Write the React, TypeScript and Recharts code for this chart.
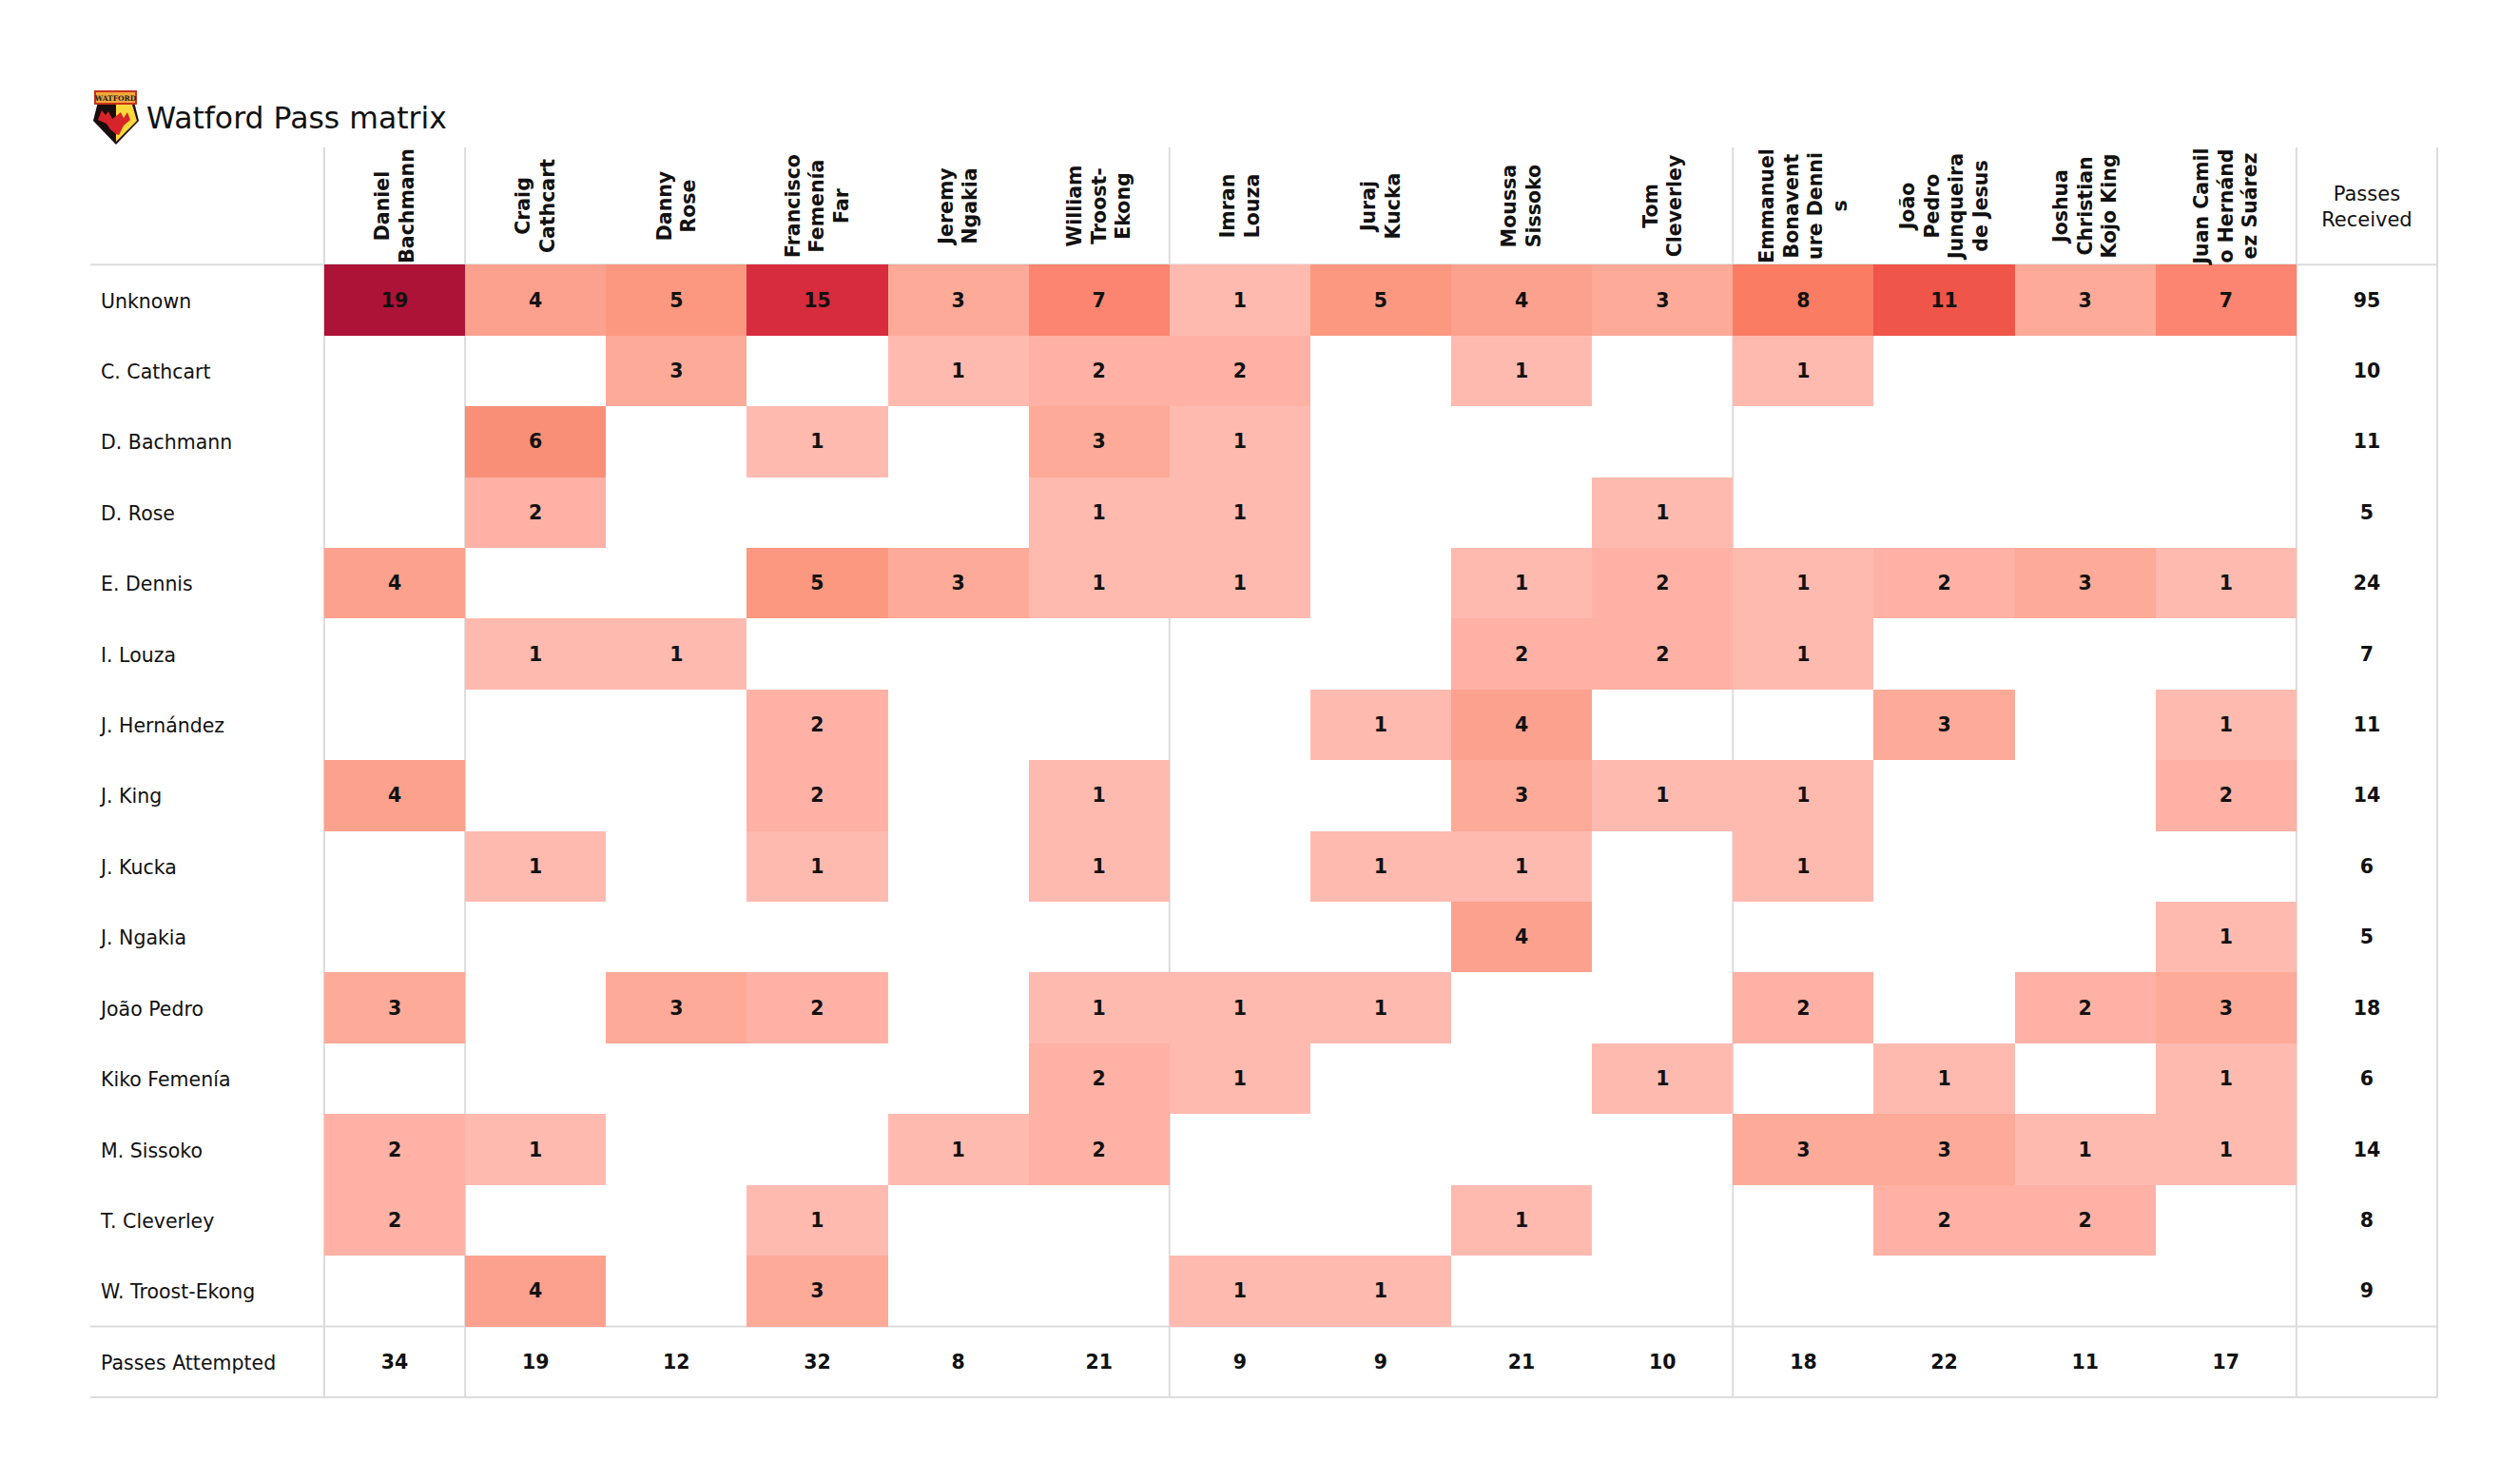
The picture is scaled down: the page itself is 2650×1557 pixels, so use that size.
import { ReferenceLine, Scatter, ScatterChart, XAxis, YAxis } from "recharts";

const columnLabels = [
  ["Daniel", "Bachmann"],
  ["Craig", "Cathcart"],
  ["Danny", "Rose"],
  ["Francisco", "Femenía", "Far"],
  ["Jeremy", "Ngakia"],
  ["William", "Troost-", "Ekong"],
  ["Imran", "Louza"],
  ["Juraj", "Kucka"],
  ["Moussa", "Sissoko"],
  ["Tom", "Cleverley"],
  ["Emmanuel", "Bonavent", "ure Denni", "s"],
  ["João", "Pedro", "Junqueira", "de Jesus"],
  ["Joshua", "Christian", "Kojo King"],
  ["Juan Camil", "o Hernánd", "ez Suárez"],
];
const receivedHeader = ["Passes", "Received"];

const rowLabels = [
  "Unknown",
  "C. Cathcart",
  "D. Bachmann",
  "D. Rose",
  "E. Dennis",
  "I. Louza",
  "J. Hernández",
  "J. King",
  "J. Kucka",
  "J. Ngakia",
  "João Pedro",
  "Kiko Femenía",
  "M. Sissoko",
  "T. Cleverley",
  "W. Troost-Ekong",
  "Passes Attempted",
];

// 0 = no passes, cell stays blank
const passMatrix = [
  [19, 4, 5, 15, 3, 7, 1, 5, 4, 3, 8, 11, 3, 7],
  [0, 0, 3, 0, 1, 2, 2, 0, 1, 0, 1, 0, 0, 0],
  [0, 6, 0, 1, 0, 3, 1, 0, 0, 0, 0, 0, 0, 0],
  [0, 2, 0, 0, 0, 1, 1, 0, 0, 1, 0, 0, 0, 0],
  [4, 0, 0, 5, 3, 1, 1, 0, 1, 2, 1, 2, 3, 1],
  [0, 1, 1, 0, 0, 0, 0, 0, 2, 2, 1, 0, 0, 0],
  [0, 0, 0, 2, 0, 0, 0, 1, 4, 0, 0, 3, 0, 1],
  [4, 0, 0, 2, 0, 1, 0, 0, 3, 1, 1, 0, 0, 2],
  [0, 1, 0, 1, 0, 1, 0, 1, 1, 0, 1, 0, 0, 0],
  [0, 0, 0, 0, 0, 0, 0, 0, 4, 0, 0, 0, 0, 1],
  [3, 0, 3, 2, 0, 1, 1, 1, 0, 0, 2, 0, 2, 3],
  [0, 0, 0, 0, 0, 2, 1, 0, 0, 1, 0, 1, 0, 1],
  [2, 1, 0, 0, 1, 2, 0, 0, 0, 0, 3, 3, 1, 1],
  [2, 0, 0, 1, 0, 0, 0, 0, 1, 0, 0, 2, 2, 0],
  [0, 4, 0, 3, 0, 0, 1, 1, 0, 0, 0, 0, 0, 0],
];
const passesReceived = [95, 10, 11, 5, 24, 7, 11, 14, 6, 5, 18, 6, 14, 8, 9];
const passesAttempted = [34, 19, 12, 32, 8, 21, 9, 9, 21, 10, 18, 22, 11, 17];

const cellColors: Record<number, string> = {
  1: "#ffbab0",
  2: "#feb1a4",
  3: "#fdaa98",
  4: "#fca18e",
  5: "#fc9880",
  6: "#fa8f77",
  7: "#fb8570",
  8: "#f97c63",
  11: "#ef5549",
  15: "#d72c3d",
  19: "#ad1237",
};

const cells = passMatrix.flatMap((row, r) =>
  row
    .map((value, c) => ({ col: c + 0.5, row: r + 0.5, value }))
    .filter((d) => d.value > 0)
);
const totals = [
  ...passesReceived.map((value, r) => ({ col: 14.5, row: r + 0.5, value })),
  ...passesAttempted.map((value, c) => ({ col: c + 0.5, row: 15.5, value })),
];

const WIDTH = 2650;
const HEIGHT = 1557;
// axes take 1px each (a 0-sized axis draws no ticks)
const margin = { top: 154, right: 87, bottom: 88, left: 94 };
const xDomain = [-1.6606, 15];
const yDomain = [-1.657, 16];
const unitX = (WIDTH - margin.left - 1 - margin.right) / (xDomain[1] - xDomain[0]);
const unitY = (HEIGHT - margin.top - 1 - margin.bottom) / (yDomain[1] - yDomain[0]);
const headerMidY = 216.5;

const font = "'DejaVu Sans', sans-serif";
const lineColor = "#dcdcdc";

function HeatCell({ cx, cy, payload }: any) {
  const left = Math.round(cx - unitX / 2);
  const top = Math.round(cy - unitY / 2);
  return (
    <g>
      <rect
        x={left}
        y={top}
        width={Math.round(cx + unitX / 2) - left}
        height={Math.round(cy + unitY / 2) - top}
        fill={cellColors[payload.value]}
      />
      <NumberLabel cx={cx} cy={cy} payload={payload} />
    </g>
  );
}

function NumberLabel({ cx, cy, payload }: any) {
  return (
    <text
      x={cx}
      y={cy + 7}
      textAnchor="middle"
      fontFamily={font}
      fontSize={20.5}
      fontWeight="bold"
      fill="#111"
    >
      {payload.value}
    </text>
  );
}

function ColumnTick({ x, payload }: any) {
  const i = Math.floor(payload.value);
  if (i === 14) {
    return (
      <g>
        {receivedHeader.map((line, k) => (
          <text
            key={line}
            x={x}
            y={211 + k * 27}
            textAnchor="middle"
            fontFamily={font}
            fontSize={21}
            fill="#111"
          >
            {line}
          </text>
        ))}
      </g>
    );
  }
  const lines = columnLabels[i];
  const lineGap = 25.5;
  return (
    <g>
      {lines.map((line, k) => {
        const lx = x + (k - (lines.length - 1) / 2) * lineGap + 7;
        return (
          <text
            key={k}
            x={lx}
            y={headerMidY}
            transform={`rotate(-90 ${lx} ${headerMidY})`}
            textAnchor="middle"
            fontFamily={font}
            fontSize={20.5}
            fontWeight="bold"
            fill="#111"
          >
            {line}
          </text>
        );
      })}
    </g>
  );
}

function RowTick({ y, payload }: any) {
  return (
    <text x={margin.left + 12} y={y + 8} textAnchor="start" fontFamily={font} fontSize={20.5} fill="#111">
      {rowLabels[Math.floor(payload.value)]}
    </text>
  );
}

function Badge() {
  return (
    <svg width={WIDTH} height={HEIGHT} style={{ position: "absolute", left: 0, top: 0, pointerEvents: "none" }}>
      <polygon points="103,107 141,107 146,127 122,152 98,127" fill="#1a0d0d" />
      <polygon points="122,110 139,110 144,127 122,149" fill="#fbd93a" />
      <polygon points="107,116 111,121 114,117 118,125 122,122 122,141 116,136 112,130 103,126" fill="#d8232a" />
      <polygon points="122,122 127,118 130,124 134,118 137,126 130,132 125,142 122,141" fill="#d8232a" />
      <rect x={100} y={96} width={43} height={13} fill="#f4a93b" stroke="#c8321e" strokeWidth={2} />
      <text x={121.5} y={106} textAnchor="middle" fontFamily="'DejaVu Serif', serif" fontSize={7.5} fontWeight="bold" fill="#222">
        WATFORD
      </text>
      <text x={154} y={135} fontFamily={font} fontSize={31.5} fill="#111">
        Watford Pass matrix
      </text>
    </svg>
  );
}

export default function App() {
  return (
    <div style={{ position: "absolute", left: 0, top: 0, width: WIDTH, height: HEIGHT, background: "#fff" }}>
      <ScatterChart width={WIDTH} height={HEIGHT} margin={margin}>
        <XAxis
          type="number"
          dataKey="col"
          orientation="top"
          domain={xDomain}
          ticks={[...columnLabels.map((_, i) => i + 0.5), 14.5]}
          interval={0}
          height={1}
          axisLine={false}
          tickLine={false}
          tick={(props: any) => <ColumnTick {...props} />}
        />
        <YAxis
          type="number"
          dataKey="row"
          reversed
          domain={yDomain}
          ticks={rowLabels.map((_, i) => i + 0.5)}
          interval={0}
          width={1}
          axisLine={false}
          tickLine={false}
          tick={(props: any) => <RowTick {...props} />}
        />
        {[0, 1, 6, 10, 14, 15].map((v) => (
          <ReferenceLine key={`v${v}`} x={v} stroke={lineColor} strokeWidth={2} />
        ))}
        {[0, 15, 16].map((v) => (
          <ReferenceLine key={`h${v}`} y={v} stroke={lineColor} strokeWidth={2} />
        ))}
        <Scatter data={cells} shape={<HeatCell />} isAnimationActive={false} />
        <Scatter data={totals} shape={<NumberLabel />} isAnimationActive={false} />
      </ScatterChart>
      <Badge />
    </div>
  );
}
